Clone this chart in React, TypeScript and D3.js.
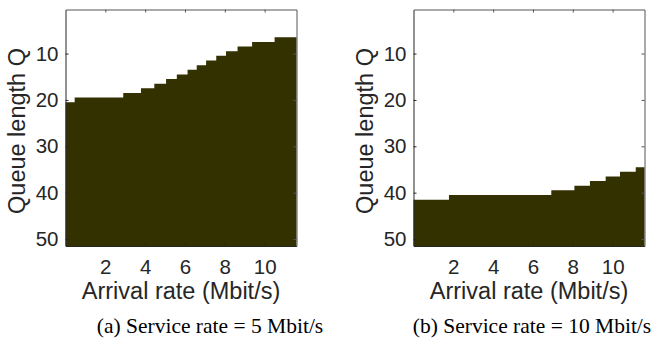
import React, { useRef, useEffect } from 'react';
import * as d3 from 'd3';

const rateTicks = [2, 4, 6, 8, 10];
const queueTicks = [10, 20, 30, 40, 50];
const rateDomain = [0, 11.6];
const queueDomain = [0.5, 51.5];

// arrival-rate breakpoints, and the smallest queue length Q that is filled between two of them
const rateEdgesA = [0, 0.46, 2.9, 3.79, 4.46, 5.05, 5.59, 6.13, 6.59, 7.06, 7.57, 8.06, 8.64, 9.37, 10.5, 11.6];
const minQueueA = [21, 20, 19, 18, 17, 16, 15, 14, 13, 12, 11, 10, 9, 8, 7];
const rateEdgesB = [0, 1.78, 6.92, 8.08, 8.86, 9.65, 10.37, 11.16, 11.6];
const minQueueB = [42, 41, 40, 39, 38, 37, 36, 35];

const captions = ['(a) Service rate = 5 Mbit/s', '(b) Service rate = 10 Mbit/s'];

const App = () => {
  const svgRef = useRef<SVGSVGElement>(null);

  useEffect(() => {
    const svg = d3.select(svgRef.current);
    svg.selectAll('*').remove();

    const top = 9.5;
    const bottom = 246;
    const w = 231;
    const axisColor = '#262626';
    const panels = [
      { left: 65.5, edges: rateEdgesA, minQ: minQueueA, caption: captions[0], capX: 210 },
      { left: 413.5, edges: rateEdgesB, minQ: minQueueB, caption: captions[1], capX: 532 },
    ];

    panels.forEach(p => {
      const x = d3.scaleLinear().domain(rateDomain).range([p.left, p.left + w]);
      const y = d3.scaleLinear().domain(queueDomain).range([top, bottom]);
      const g = svg.append('g');

      g.append('rect')
        .attr('x', p.left).attr('y', top)
        .attr('width', w).attr('height', bottom - top)
        .attr('fill', '#fff');

      const pts = p.edges.map((e, i) => ({ r: e, q: p.minQ[Math.min(i, p.minQ.length - 1)] }));
      const area = d3.area<{ r: number; q: number }>()
        .x(d => x(d.r))
        .y0(y(queueDomain[1]))
        .y1(d => y(d.q - 0.5))
        .curve(d3.curveStepAfter);
      g.append('path').attr('d', area(pts)).attr('fill', '#333100');

      const styleAxis = (a: any, color: string) => {
        a.attr('font-family', 'Liberation Sans, Arial, sans-serif').attr('font-size', 20.5);
        a.selectAll('.domain').attr('stroke', color);
        a.selectAll('.tick line').attr('stroke', color);
        a.selectAll('.tick text').attr('fill', axisColor);
      };

      g.append('g').attr('transform', `translate(0,${bottom})`)
        .call(d3.axisBottom(x).tickValues(rateTicks).tickSizeInner(-3).tickSizeOuter(0).tickPadding(13))
        .call(styleAxis, axisColor);
      g.append('g').attr('transform', `translate(${p.left},0)`)
        .call(d3.axisLeft(y).tickValues(queueTicks).tickSizeInner(-3).tickSizeOuter(0).tickPadding(7))
        .call(styleAxis, axisColor);
      g.append('g').attr('transform', `translate(0,${top})`)
        .call(d3.axisTop(x).tickValues(rateTicks).tickFormat(() => '').tickSizeInner(-3).tickSizeOuter(0))
        .call(styleAxis, '#555');
      g.append('g').attr('transform', `translate(${p.left + w},0)`)
        .call(d3.axisRight(y).tickValues(queueTicks).tickFormat(() => '').tickSizeInner(-3).tickSizeOuter(0))
        .call(styleAxis, '#555');

      g.append('text')
        .attr('x', p.left + w / 2).attr('y', 299)
        .attr('text-anchor', 'middle')
        .attr('font-family', 'Liberation Sans, Arial, sans-serif').attr('font-size', 23.5)
        .attr('fill', axisColor)
        .text('Arrival rate (Mbit/s)');

      g.append('text')
        .attr('transform', `translate(${p.left - 41},131) rotate(-90)`)
        .attr('text-anchor', 'middle')
        .attr('font-family', 'Liberation Sans, Arial, sans-serif').attr('font-size', 23.5)
        .attr('fill', axisColor)
        .text('Queue length Q');

      g.append('text')
        .attr('x', p.capX).attr('y', 333)
        .attr('text-anchor', 'middle')
        .attr('font-family', 'Liberation Serif, Times New Roman, serif').attr('font-size', 21.5)
        .attr('fill', '#000')
        .text(p.caption);
    });
  }, []);

  return (
    <svg ref={svgRef} width="654" height="345" style={{ position: 'absolute', left: 0, top: 0, background: '#fff' }}></svg>
  );
};

export default App;
